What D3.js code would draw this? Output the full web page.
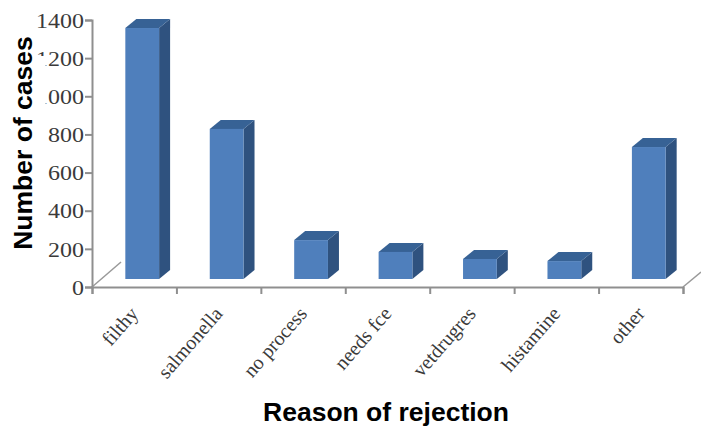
<!DOCTYPE html>
<html>
<head>
<meta charset="utf-8">
<script src="https://cdn.jsdelivr.net/npm/d3@7"></script>
<style>
html,body{margin:0;padding:0;background:#fff}
svg{display:block}
</style>
</head>
<body>
<svg id="chart" width="701" height="428"></svg>
<script>
const categories = ["filthy","salmonella","no process","needs fce","vetdrugres","histamine","other"];
const cases = [1316, 787, 204, 142, 105, 94, 692];
const yTicks = [0,200,400,600,800,1000,1200,1400];

const svg = d3.select("#chart");
const plotLeft = 92, plotRight = 683, plotTop = 20, plotBottom = 287;
const floorDrop = 8, depthX = 11, depthY = 9;

const x = d3.scaleBand().domain(categories).range([plotLeft, plotRight]).paddingInner(0.6).paddingOuter(0.3);
const xEdges = d3.scaleLinear().domain([0, categories.length]).range([plotLeft, plotRight]);
const y = d3.scaleLinear().domain([0, 1400]).range([plotBottom, plotTop]);
// Columns stand slightly in front of the axis plane, on the perspective floor.
const yBar = v => y(v) - floorDrop;

// Floor edges running back from the axis corners
const floorEdge = svg.append("g").attr("stroke", "#999").attr("stroke-width", 1.5);
floorEdge.append("line").attr("x1", plotLeft).attr("y1", plotBottom).attr("x2", plotLeft + 29).attr("y2", plotBottom - 25);
floorEdge.append("line").attr("x1", plotRight).attr("y1", plotBottom).attr("x2", plotRight + 18).attr("y2", plotBottom - 15);

// Three-faced columns
const bars = svg.append("g").selectAll("g").data(categories).join("g")
  .attr("transform", d => `translate(${x(d) + floorDrop},0)`);
const w = x.bandwidth();
bars.append("path").attr("fill", "#2F527F")
  .attr("d", (d, i) => `M${w},${yBar(cases[i])}l${depthX},${-depthY}V${yBar(0) - depthY}l${-depthX},${depthY}Z`);
bars.append("path").attr("fill", "#376295")
  .attr("d", (d, i) => `M0,${yBar(cases[i])}l${depthX},${-depthY}h${w}l${-depthX},${depthY}Z`);
bars.append("rect").attr("fill", "#4F7FBC")
  .attr("x", 0).attr("width", w)
  .attr("y", (d, i) => yBar(cases[i]))
  .attr("height", (d, i) => yBar(0) - yBar(cases[i]));

// Y axis
const yAxis = svg.append("g").attr("transform", `translate(${plotLeft},0)`)
  .call(d3.axisLeft(y).tickValues(yTicks).tickSize(7).tickPadding(0).tickFormat(d3.format("d")));
yAxis.selectAll("path,line").attr("stroke", "#8f8f8f").attr("stroke-width", 2);
yAxis.selectAll("text")
  .attr("font-family", "'Liberation Serif'").attr("font-size", 22).attr("fill", "#3a3a3a")
  .attr("x", 0).attr("dy", "0.33em")
  .attr("transform", "translate(-8,0) scale(1.09,1)");

// X axis: tick marks fall between the categories
const xAxis = svg.append("g").attr("transform", `translate(0,${plotBottom})`)
  .call(d3.axisBottom(xEdges).tickValues(d3.range(categories.length + 1)).tickSize(7).tickFormat(""));
xAxis.selectAll("path,line").attr("stroke", "#8f8f8f").attr("stroke-width", 2);

// Category labels, rotated and ending under each column
svg.append("g").selectAll("text").data(categories).join("text")
  .attr("transform", d => `translate(${x(d) + x.bandwidth() / 2},${plotBottom + 23}) rotate(-49)`)
  .attr("text-anchor", "end")
  .attr("dy", "0.33em")
  .attr("font-family", "'Liberation Serif'").attr("font-size", 20).attr("fill", "#3a3a3a")
  .text(d => d);

// The axis title sits on a white plate that runs over the leading digits
svg.append("rect").attr("x", 8).attr("y", 56).attr("width", 37.5).attr("height", 196).attr("fill", "#fff");
svg.append("text")
  .attr("transform", "translate(32,143) rotate(-90)")
  .attr("text-anchor", "middle")
  .attr("font-family", "'Liberation Sans'").attr("font-weight", "bold").attr("font-size", 26.5).attr("fill", "#000")
  .text("Number of cases");

svg.append("text")
  .attr("x", 386).attr("y", 421)
  .attr("text-anchor", "middle")
  .attr("font-family", "'Liberation Sans'").attr("font-weight", "bold").attr("font-size", 26.5).attr("fill", "#000")
  .text("Reason of rejection");
</script>
</body>
</html>
